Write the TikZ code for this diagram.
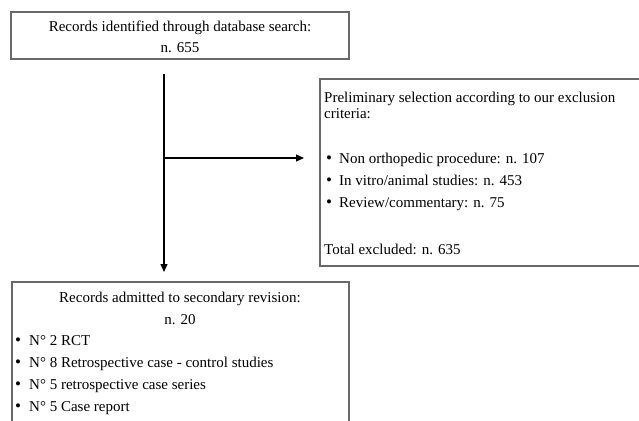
\documentclass[tikz,border=0pt]{standalone}
\usepackage{fontspec}
\setmainfont{Liberation Serif}
\usetikzlibrary{arrows.meta}
\definecolor{boxgray}{RGB}{105,105,105}
\begin{document}
\begin{tikzpicture}[x=1pt,y=-1pt,
  box/.style={draw=boxgray,line width=1.3pt,inner sep=0pt,fill=none},
  txt/.style={inner sep=0pt,font=\fontsize{15}{18}\selectfont},
  ctxt/.style={txt,anchor=base},
  ltxt/.style={txt,anchor=base west},
  bul/.style={inner sep=0pt,anchor=base,font=\fontsize{17}{18}\selectfont},
  conn/.style={line width=1.2pt,-{Triangle[length=8pt,width=7pt]}}]
\useasboundingbox (0,0) rectangle (639,420);
% boxes
\node[box,minimum width=338pt,minimum height=47pt] (topbox) at (180,35.5) {};
\node[box,minimum width=325pt,minimum height=187pt] (rightbox) at (482.5,172.5) {};
\node[box,minimum width=337pt,minimum height=143pt] (botbox) at (180.5,353.5) {};
% top text
\node[ctxt] (t1) at (180,32) {Records identified through database search:};
\node[ctxt] (t2) at (180,52.5) {n. 655};
% right text
\node[ltxt] (r1) at (324,102.5) {Preliminary selection according to our exclusion};
\node[ltxt] (r2) at (324,118.5) {criteria:};
\node[bul] (rb1) at (329,163.5) {•};
\node[ltxt] (r3) at (339,163.5) {Non orthopedic procedure: n. 107};
\node[bul] (rb2) at (329,185.5) {•};
\node[ltxt] (r4) at (339,185.5) {In vitro/animal studies: n. 453};
\node[bul] (rb3) at (329,207.5) {•};
\node[ltxt] (r5) at (339,207.5) {Review/commentary: n. 75};
\node[ltxt] (r6) at (324,254) {Total excluded: n. 635};
% bottom text
\node[ctxt] (b1) at (180,302) {Records admitted to secondary revision:};
\node[ctxt] (b2) at (180,324) {n. 20};
\node[bul] (bb1) at (18,345) {•};
\node[ltxt] (b3) at (29,345) {N° 2 RCT};
\node[bul] (bb2) at (18,367) {•};
\node[ltxt] (b4) at (29,367) {N° 8 Retrospective case - control studies};
\node[bul] (bb3) at (18,389) {•};
\node[ltxt] (b5) at (29,389) {N° 5 retrospective case series};
\node[bul] (bb4) at (18,411) {•};
\node[ltxt] (b6) at (29,411) {N° 5 Case report};
% connectors
\coordinate (vstart) at (164,74);
\coordinate (junc) at (164,158);
\coordinate (vend) at (164,272);
\coordinate (hend) at (304,158);
\draw[conn] (vstart) -- (vend);
\draw[conn] (junc) -- (hend);
\end{tikzpicture}
\end{document}
